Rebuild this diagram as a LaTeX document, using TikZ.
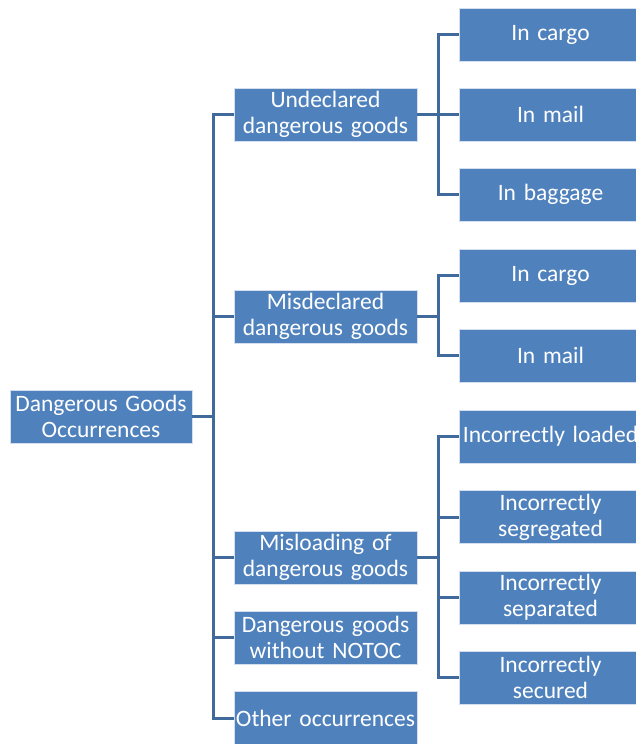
\documentclass[tikz,border=0pt]{standalone}
\usepackage{fontspec}
\setmainfont{Carlito}
\usepackage{tikz}
\definecolor{boxblue}{HTML}{4F81BD}
\definecolor{lineblue}{HTML}{3F6A9B}

\begin{document}
\begin{tikzpicture}[x=1pt, y=-1pt,
  box/.style={fill=boxblue, draw=white!75!boxblue, line width=0.6pt, text=white,
    minimum height=53pt, text width=183pt, inner sep=0pt, align=center,
    font=\fontsize{23.5}{26}\selectfont},
  link/.style={draw=lineblue, line width=3pt}]
\useasboundingbox (0,0) rectangle (636,744);
\node[box, text width=182pt] (root) at (101,416.5) {Dangerous Goods\\Occurrences};
\node[box] (undecl) at (325.5,114.5) {Undeclared\\dangerous goods};
\node[box] (misdecl) at (325.5,316.5) {Misdeclared\\dangerous goods};
\node[box] (misload) at (325.5,557.5) {Misloading of\\dangerous goods};
\node[box] (notoc) at (325.5,637.5) {Dangerous goods\\without NOTOC};
\node[box] (other) at (325.5,718) {Other occurrences};
\node[box] (ucargo) at (550.5,34.5) {In cargo};
\node[box] (umail) at (550.5,114.5) {In mail};
\node[box] (ubag) at (550.5,194.5) {In baggage};
\node[box] (mcargo) at (550.5,275.5) {In cargo};
\node[box] (mmail) at (550.5,355.5) {In mail};
\node[box] (loaded) at (550.5,436.5) {\mbox{Incorrectly loaded}};
\node[box] (segr) at (550.5,517) {Incorrectly\\segregated};
\node[box] (sepa) at (550.5,597.5) {Incorrectly\\separated};
\node[box] (secu) at (550.5,677.5) {Incorrectly\\secured};
\path[link]
(root.east) -- ++(21,0) |- (undecl.west)
(root.east) -- ++(21,0) |- (misdecl.west)
(root.east) -- ++(21,0) |- (misload.west)
(root.east) -- ++(21,0) |- (notoc.west)
(root.east) -- ++(21,0) |- (other.west)
(undecl.east) -- ++(21,0) |- (ucargo.west)
(undecl.east) -- ++(21,0) |- (umail.west)
(undecl.east) -- ++(21,0) |- (ubag.west)
(misdecl.east) -- ++(21,0) |- (mcargo.west)
(misdecl.east) -- ++(21,0) |- (mmail.west)
(misload.east) -- ++(21,0) |- (loaded.west)
(misload.east) -- ++(21,0) |- (segr.west)
(misload.east) -- ++(21,0) |- (sepa.west)
(misload.east) -- ++(21,0) |- (secu.west);
\end{tikzpicture}
\end{document}
